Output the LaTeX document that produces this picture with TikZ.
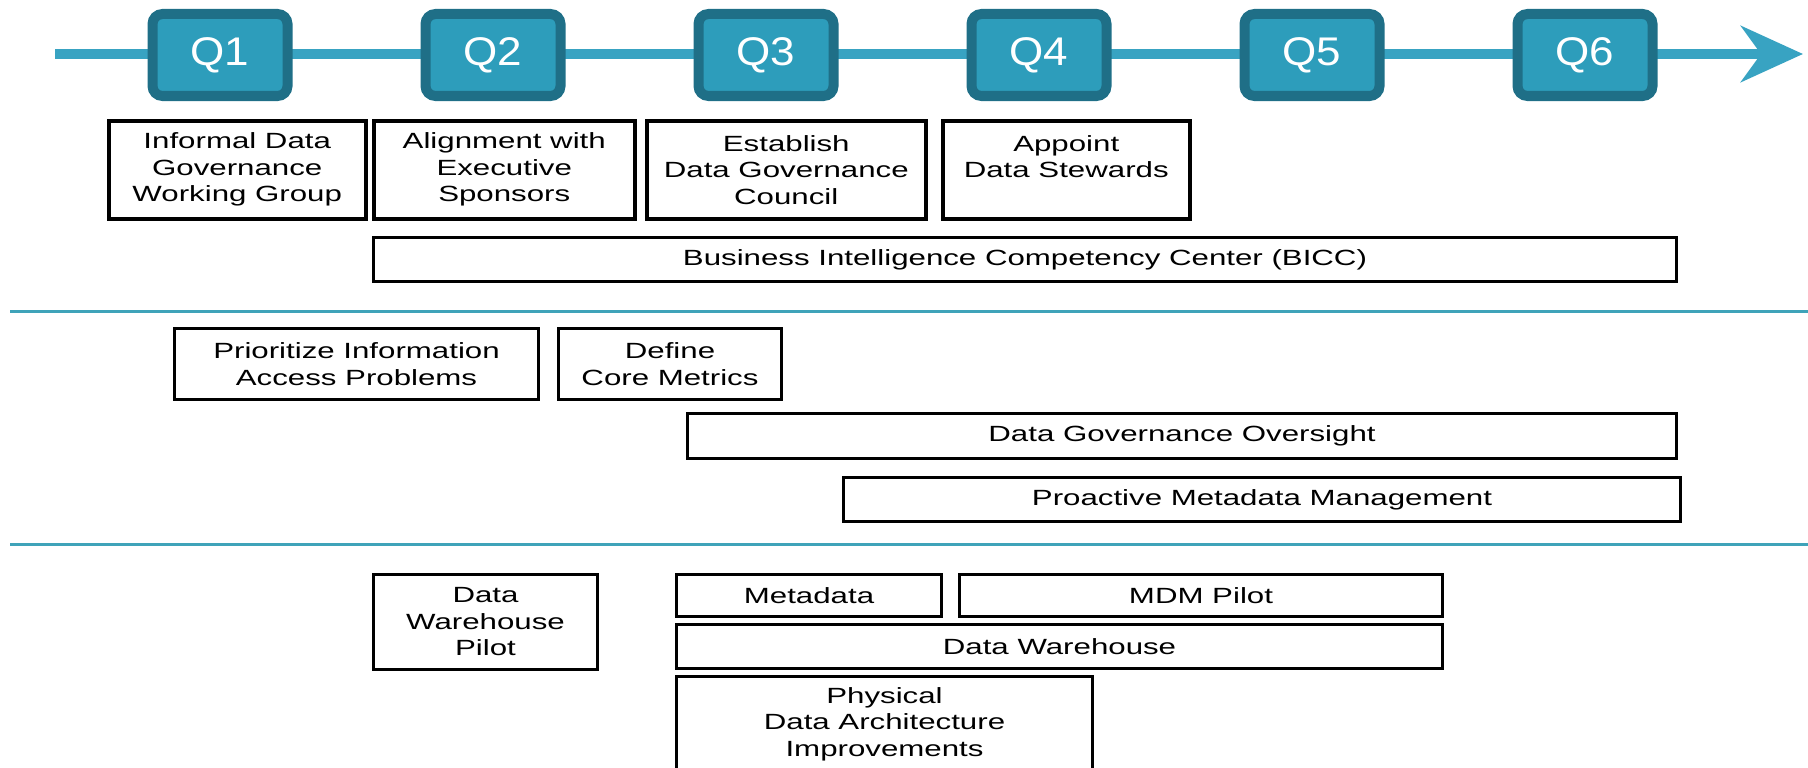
\documentclass[tikz,border=0pt]{standalone}
\usepackage{fontspec}
\setmainfont{Liberation Sans}
\newfontfamily\boxfont[FakeStretch=1.42]{Liberation Sans}
\newfontfamily\qfont[FakeStretch=1.1]{Liberation Sans}
\usetikzlibrary{arrows.meta}
\definecolor{qdark}{HTML}{1F6F87}
\definecolor{qlight}{HTML}{2D9DBB}
\definecolor{tline}{HTML}{38A3C2}
\definecolor{sepline}{HTML}{3FA3B9}

\begin{document}
\begin{tikzpicture}[x=1pt,y=-1pt]
				\tikzstyle{quarter}=[fill=qlight,draw=qdark,line width=10pt,rounded corners=10pt,
				minimum width=135pt,minimum height=82pt,inner sep=0pt,
				text=white,font=\qfont\fontsize{40pt}{48pt}\selectfont]
				\tikzstyle{task}=[draw,line width=3pt,align=center,anchor=north west,inner sep=0pt,
				font=\boxfont\fontsize{22pt}{26.5pt}\selectfont]
				\tikzstyle{milestone}=[task,line width=3.5pt,minimum height=98pt]
				\tikzstyle{separator}=[sepline,line width=3pt]
				\useasboundingbox (0,0) rectangle (1808,768);
				\coordinate (tstart) at (55,54);
				\coordinate (tend) at (1803,54);
				\draw[tline,line width=10pt,-{Stealth[length=62pt,width=56pt,inset=20pt]}] (tstart) -- (tend);
				\node[quarter] (q1) at (220,55) {Q1};
				\node[quarter] (q2) at (493,55) {Q2};
				\node[quarter] (q3) at (766,55) {Q3};
				\node[quarter] (q4) at (1039,55) {Q4};
				\node[quarter] (q5) at (1312,55) {Q5};
				\node[quarter] (q6) at (1585,55) {Q6};
				\node[milestone,minimum width=257pt] (informal) at (107,119)
					{Informal Data\\Governance\\Working Group};
				\node[milestone,minimum width=261pt] (sponsors) at (372,119)
					{Alignment with\\Executive\\Sponsors};
				\node[milestone,minimum width=279pt] (council) at (645,119)
					{Establish\\Data Governance\\Council};
				\node[milestone,minimum width=247pt] (stewards) at (941,119)
					{Appoint\\Data Stewards\\\mbox{}};
				\node[task,minimum width=1303pt,minimum height=44pt] (bicc) at (372,236)
					{Business Intelligence Competency Center (BICC)};
				\coordinate (sep1w) at (10,311);
				\coordinate (sep1e) at (1808,311);
				\draw[separator] (sep1w) -- (sep1e);
				\node[task,minimum width=364pt,minimum height=71pt] (prioritize) at (173,327)
					{Prioritize Information\\Access Problems};
				\node[task,minimum width=223pt,minimum height=71pt] (metrics) at (557,327)
					{Define\\Core Metrics};
				\node[task,minimum width=989pt,minimum height=45pt] (oversight) at (686,412)
					{Data Governance Oversight};
				\node[task,minimum width=837pt,minimum height=44pt] (metamgmt) at (842,476)
					{Proactive Metadata Management};
				\coordinate (sep2w) at (10,544);
				\coordinate (sep2e) at (1808,544);
				\draw[separator] (sep2w) -- (sep2e);
				\node[task,minimum width=224pt,minimum height=95pt] (dwpilot) at (372,573)
					{Data\\Warehouse\\Pilot};
				\node[task,minimum width=265pt,minimum height=42pt] (metadata) at (675,573)
					{Metadata};
				\node[task,minimum width=483pt,minimum height=42pt] (mdm) at (958,573)
					{MDM Pilot};
				\node[task,minimum width=766pt,minimum height=44pt] (warehouse) at (675,623)
					{Data Warehouse};
				\node[task,minimum width=416pt,minimum height=95pt] (physical) at (675,675)
					{Physical\\Data Architecture\\Improvements};
\end{tikzpicture}
\end{document}
